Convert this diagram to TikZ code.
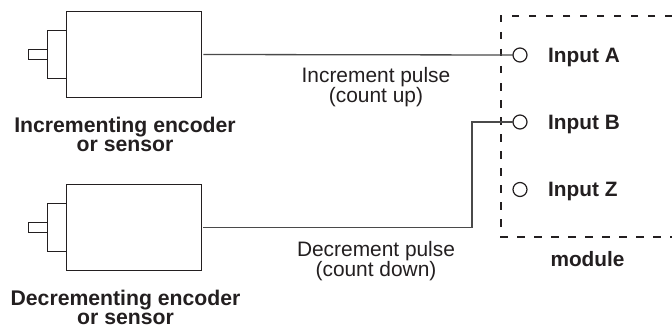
\documentclass[tikz,border=0pt]{standalone}
\usepackage{fontspec}
\setmainfont{Liberation Sans}
\definecolor{ink}{HTML}{231F20}
\definecolor{wire}{HTML}{4A4A4A}
\tikzset{
  part/.style={draw=ink,line width=1.4pt,rectangle,inner sep=0pt,outer sep=0pt,fill=white},
  port/.style={draw=ink,line width=1.2pt,circle,inner sep=0pt,outer sep=0pt,minimum size=14pt},
  wireline/.style={draw=wire,line width=1.3pt},
  boxline/.style={draw=ink,line width=1.6pt,dash pattern=on 7.5pt off 9.5pt},
  bold label/.style={font=\fontsize{20.8pt}{19pt}\selectfont\bfseries,text=ink,align=center,inner sep=0pt},
  big label/.style={font=\fontsize{21.2pt}{19pt}\selectfont\bfseries,text=ink,align=center,inner sep=0pt},
  plain label/.style={font=\fontsize{20.9pt}{20pt}\selectfont,text=ink,align=center,inner sep=0pt},
}
\begin{document}
\begin{tikzpicture}[x=1pt,y=-1pt]
\useasboundingbox (0,0) rectangle (672,329);
\fill[white] (0,0) rectangle (672,329);
% encoders
\node[part,minimum width=134.5pt,minimum height=86pt] (enc1) at (134,54.5) {};
\node[part,minimum width=19pt,minimum height=48pt] (fl1) at (57,54.5) {};
\node[part,minimum width=19pt,minimum height=9.5pt] (sh1) at (38,54.5) {};
\node[part,minimum width=134.5pt,minimum height=86pt] (enc2) at (134,227.5) {};
\node[part,minimum width=19pt,minimum height=48pt] (fl2) at (57,227.5) {};
\node[part,minimum width=19pt,minimum height=9.5pt] (sh2) at (38,227.5) {};
% module outline
\coordinate (mtr) at (672,16);
\coordinate (mtl) at (501,16);
\coordinate (mbl) at (501,237);
\coordinate (mbr) at (672,237);
\draw[boxline] (mtr) -- (mtl) -- (mbl) -- (mbr);
% ports
\node[port] (pa) at (520,55) {};
\node[port] (pb) at (520,122) {};
\node[port] (pz) at (520,189.5) {};
% wires
\coordinate (s1) at ([xshift=2pt]enc1.east);
\coordinate (s2) at ([xshift=2pt]enc2.east);
\coordinate (bend) at (472,122);
\draw[wireline] (s1) -- (pa.west);
\draw[wireline] (s2) -| (bend) -- (pb.west);
% labels
\node[bold label,anchor=base west] (la) at (548,63) {Input A};
\node[bold label,anchor=base west] (lb) at (548,129) {Input B};
\node[bold label,anchor=base west] (lz) at (548,196) {Input Z};
\node[bold label,anchor=base] (lm) at (587.5,266) {module};
\node[big label] (l1) at (125,134.5) {Incrementing encoder\\or sensor};
\node[big label] (l2) at (125.5,307.5) {Decrementing encoder\\or sensor};
\node[plain label] (w1) at (376,87) {Increment pulse\\(count up)};
\node[plain label] (w2) at (376,261) {Decrement pulse\\(count down)};
\end{tikzpicture}
\end{document}
